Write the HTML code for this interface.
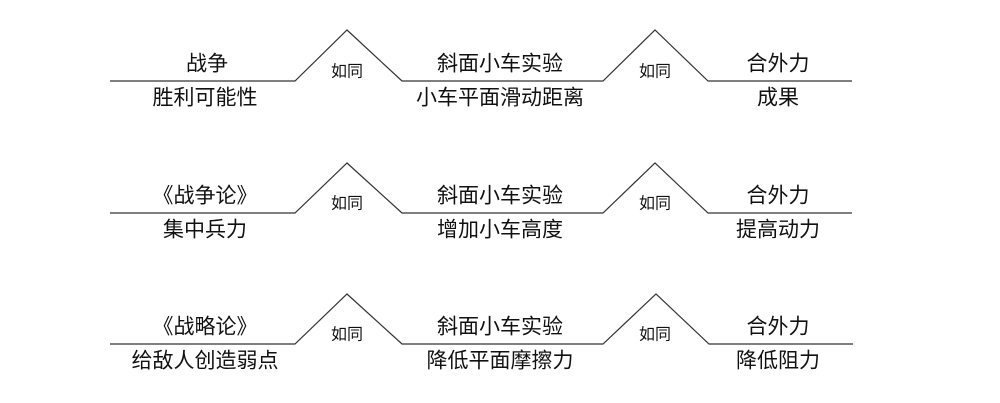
<!DOCTYPE html>
<html><head><meta charset="utf-8"><style>
html,body{margin:0;padding:0;background:#fff;}
svg{display:block;}
text{font-family:"Liberation Sans","Noto Sans CJK SC",sans-serif;fill:#111;text-anchor:middle;dominant-baseline:central;}
.b{font-size:21px;}
.s{font-size:16px;}
</style></head><body>
<svg width="1000" height="403" viewBox="0 0 1000 403" xmlns="http://www.w3.org/2000/svg">
<g fill="none" stroke="#333" stroke-width="1.2">
<polyline points="110,81 295,81 347,30 402,81 603,81 655,30 708,81 852,81"/>
<polyline points="110,213 295,213 347,163 402,213 603,213 655,163 708,213 852,213"/>
<polyline points="110,344 295,344 347,294 402,344 603,344 656,294 709,344 853,344"/>
</g>
<text class="b" x="207" y="64">战争</text>
<text class="b" x="205" y="98">胜利可能性</text>
<text class="s" x="347" y="72">如同</text>
<text class="b" x="500" y="64">斜面小车实验</text>
<text class="b" x="500" y="98">小车平面滑动距离</text>
<text class="s" x="655" y="72">如同</text>
<text class="b" x="778" y="64">合外力</text>
<text class="b" x="778" y="98">成果</text>

<text class="b" x="205" y="196">《战争论》</text>
<text class="b" x="205" y="230">集中兵力</text>
<text class="s" x="347" y="204">如同</text>
<text class="b" x="500" y="196">斜面小车实验</text>
<text class="b" x="500" y="230">增加小车高度</text>
<text class="s" x="655" y="204">如同</text>
<text class="b" x="778" y="196">合外力</text>
<text class="b" x="778" y="230">提高动力</text>

<text class="b" x="205" y="327">《战略论》</text>
<text class="b" x="205" y="361">给敌人创造弱点</text>
<text class="s" x="347" y="335">如同</text>
<text class="b" x="500" y="327">斜面小车实验</text>
<text class="b" x="500" y="361">降低平面摩擦力</text>
<text class="s" x="655" y="335">如同</text>
<text class="b" x="778" y="327">合外力</text>
<text class="b" x="778" y="361">降低阻力</text>
</svg>
</body></html>
